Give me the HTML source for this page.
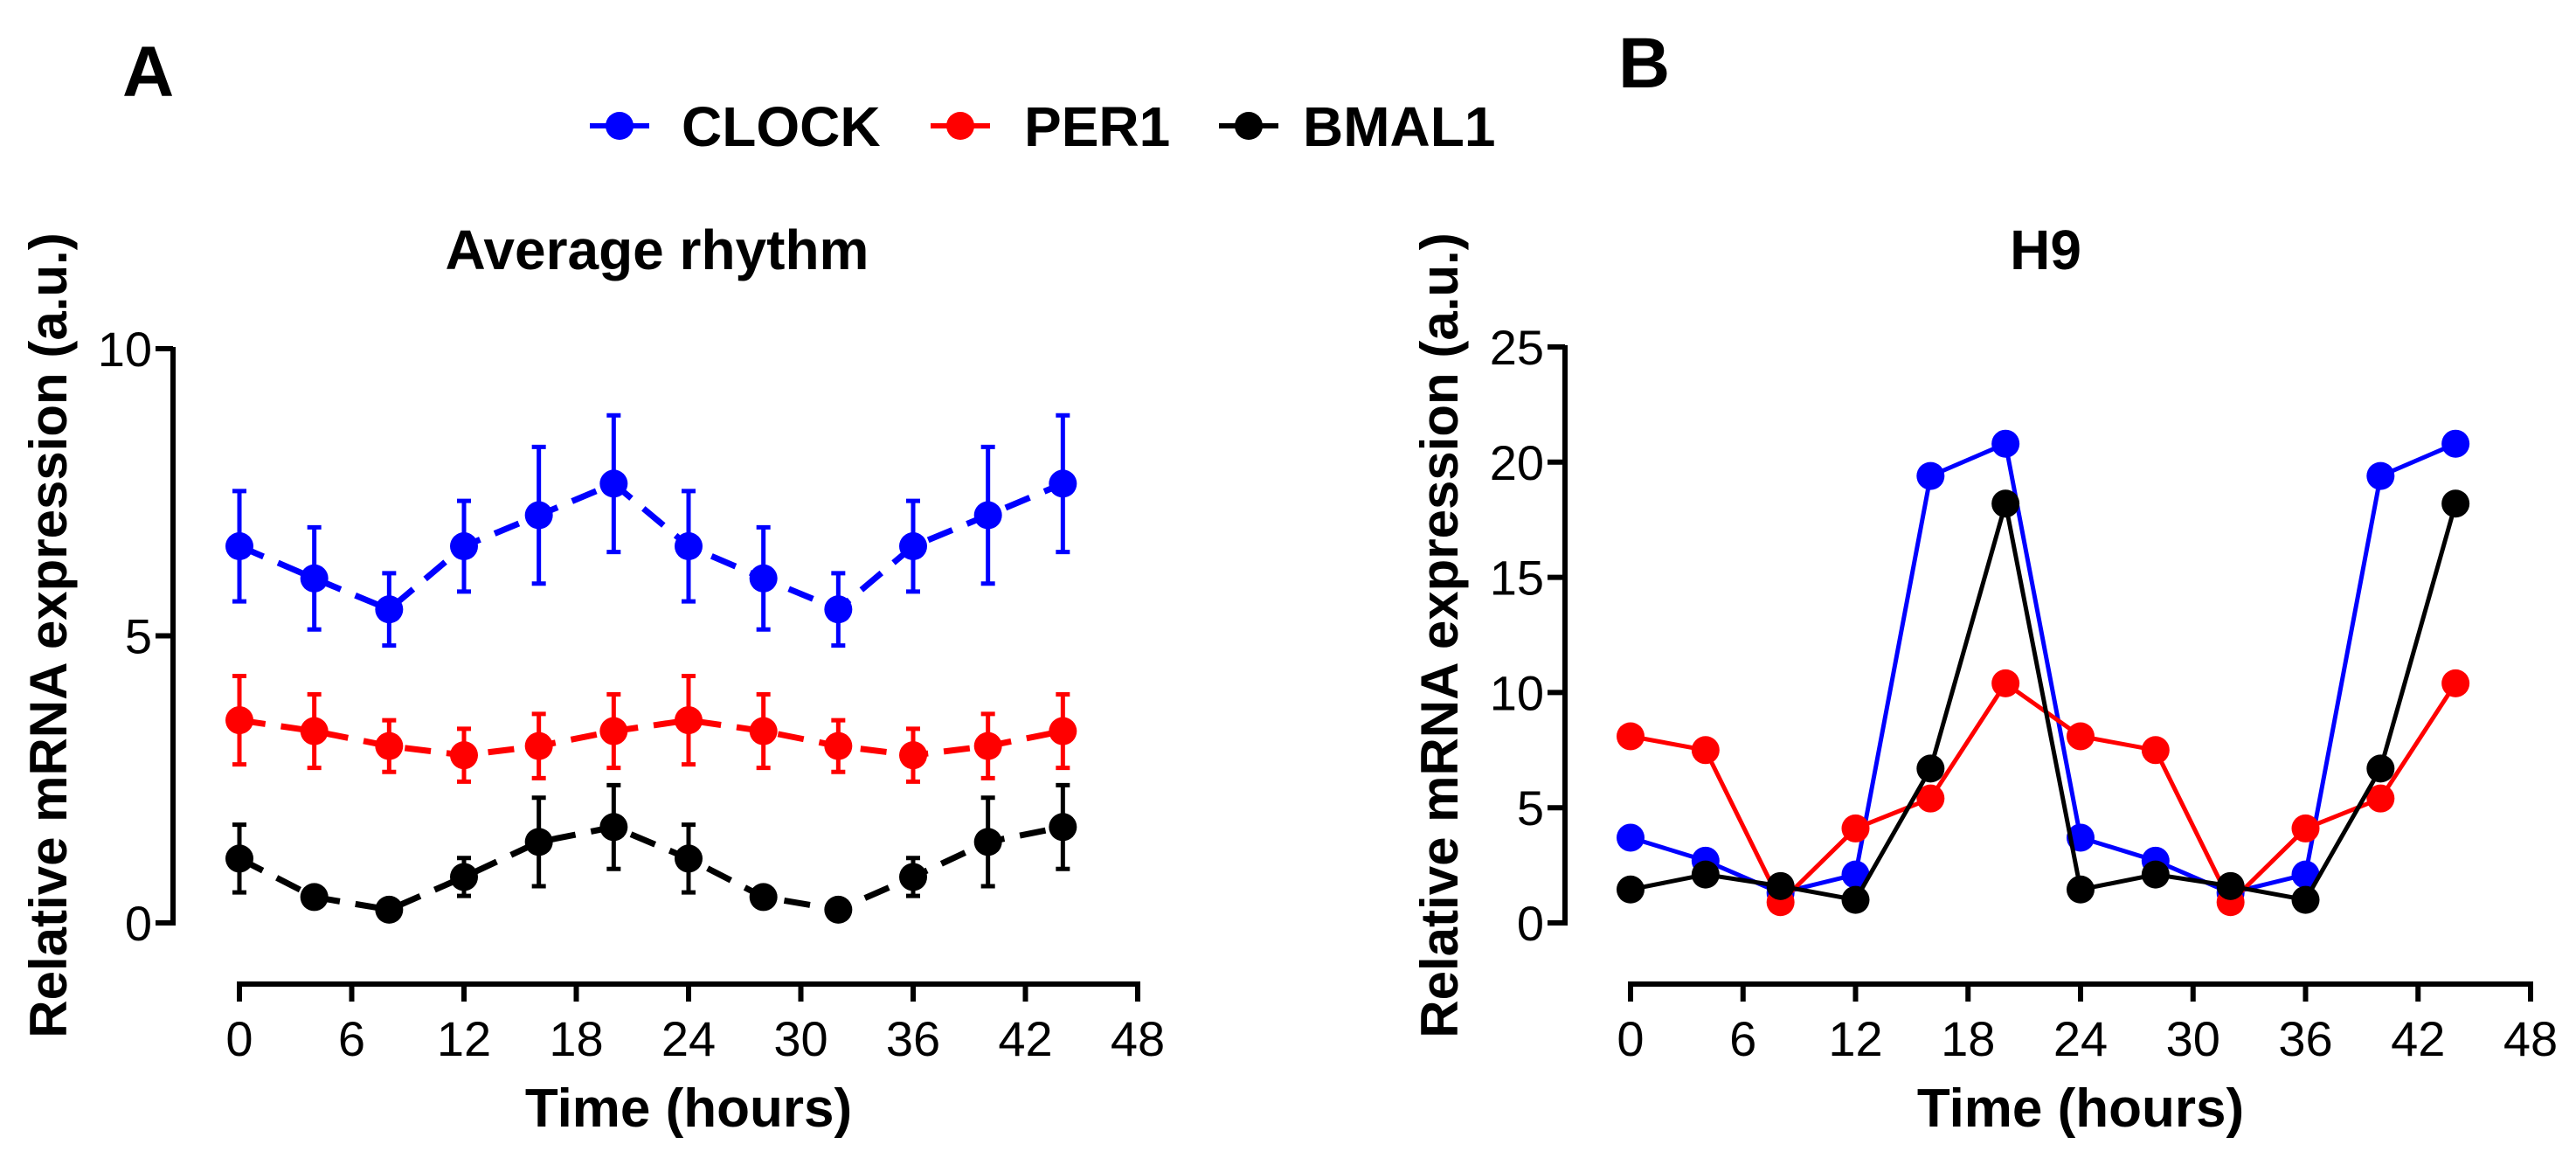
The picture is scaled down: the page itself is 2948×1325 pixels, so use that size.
<!DOCTYPE html>
<html><head><meta charset="utf-8"><style>
html,body{margin:0;padding:0;background:#fff;}
svg{display:block;font-family:"Liberation Sans",Arial,sans-serif;}
</style></head><body>
<svg id="chart" width="2948" height="1325" viewBox="0 0 2948 1325">
<text x="140" y="110" font-size="82" font-weight="bold">A</text>
<text x="1852" y="100" font-size="82" font-weight="bold">B</text>
<g id="legend"></g>
<g id="panelA"></g>
<g id="panelB"></g>
</svg>
<script>
const hours = [0,4,8,12,16,20,24,28,32,36,40,44];
const xTicks = [0,6,12,18,24,30,36,42,48];
const yTicksA = [0,5,10];
const yTicksB = [0,5,10,15,20,25];
const seriesNames = ["CLOCK","PER1","BMAL1"];
const seriesColors = ["#0000ff","#ff0000","#000000"];
const avgClock = [6.56,6.0,5.46,6.56,7.1,7.65,6.56,6.0,5.46,6.56,7.1,7.65];
const avgClockErr = [0.96,0.89,0.63,0.79,1.19,1.19,0.96,0.89,0.63,0.79,1.19,1.19];
const avgPer1 = [3.53,3.34,3.08,2.92,3.08,3.34,3.53,3.34,3.08,2.92,3.08,3.34];
const avgPer1Err = [0.77,0.64,0.45,0.46,0.56,0.64,0.77,0.64,0.45,0.46,0.56,0.64];
const avgBmal1 = [1.12,0.45,0.23,0.8,1.41,1.67,1.12,0.45,0.23,0.8,1.41,1.67];
const avgBmal1Err = [0.59,0.1,0.08,0.33,0.77,0.73,0.59,0.1,0.08,0.33,0.77,0.73];
const h9Clock = [3.7,2.7,1.3,2.1,19.4,20.8,3.7,2.7,1.3,2.1,19.4,20.8];
const h9Per1 = [8.1,7.5,0.9,4.1,5.4,10.4,8.1,7.5,0.9,4.1,5.4,10.4];
const h9Bmal1 = [1.45,2.1,1.6,1.0,6.7,18.2,1.45,2.1,1.6,1.0,6.7,18.2];

const NS="http://www.w3.org/2000/svg";
function mk(tag,attrs,parent){const e=document.createElementNS(NS,tag);for(const k in attrs)e.setAttribute(k,attrs[k]);parent.appendChild(e);return e;}

function drawPanel(g,cfg){
  const sx=v=>cfg.x0+(v-0)/48*(cfg.x1-cfg.x0);
  const sy=v=>cfg.yb-(v/cfg.ymax)*(cfg.yb-cfg.yt);
  const ya=mk('line',{x1:cfg.yaxX,y1:cfg.yt-2,x2:cfg.yaxX,y2:cfg.yb+3,stroke:'#000','stroke-width':6},g);
  
  
  cfg.yTicks.forEach(t=>{
    const tk=mk('line',{x1:cfg.yaxX-20,y1:sy(t),x2:cfg.yaxX,y2:sy(t),stroke:'#000','stroke-width':6},g);
    
    
    const tl=mk('text',{x:cfg.yaxX-24,y:sy(t)+20,'font-size':56,'text-anchor':'end'},g);
    tl.textContent=t;
    
    
  });
  const xa=mk('line',{x1:sx(0)-3,y1:cfg.xaxY,x2:sx(48)+3,y2:cfg.xaxY,stroke:'#000','stroke-width':6},g);
  
  
  xTicks.forEach(t=>{
    const tk=mk('line',{x1:sx(t),y1:cfg.xaxY,x2:sx(t),y2:cfg.xaxY+20,stroke:'#000','stroke-width':6},g);
    
    
    const tl=mk('text',{x:sx(t),y:1208,'font-size':56,'text-anchor':'middle'},g);
    tl.textContent=t;
    
    
  });
  const title=mk('text',{x:cfg.titleX,y:308,'font-size':64,'font-weight':'bold','text-anchor':'middle'},g);
  title.textContent=cfg.title;
  
  
  const xt=mk('text',{x:(sx(0)+sx(48))/2,y:1289,'font-size':62,'font-weight':'bold','text-anchor':'middle'},g);
  xt.textContent='Time (hours)';
  
  
  const yt=mk('text',{x:0,y:0,'font-size':60,'font-weight':'bold','text-anchor':'middle',transform:`translate(${cfg.ytX},727) rotate(-90)`},g);
  yt.textContent='Relative mRNA expression (a.u.)';
  
  
  cfg.series.forEach((s,si)=>{
    const col=seriesColors[si];
    const pts=hours.map((h,i)=>sx(h)+','+sy(s.vals[i])).join(' ');
    const pl=mk('polyline',{points:pts,fill:'none',stroke:col,'stroke-width':cfg.dashed?7:5,'stroke-dasharray':cfg.dashed?'30 18':'none'},g);
    
    
    hours.forEach((h,i)=>{
      if(s.err){
        const e=s.err[i],cx=sx(h);
        const eb=mk('path',{d:`M${cx},${sy(s.vals[i]+e)}V${sy(s.vals[i]-e)}M${cx-8},${sy(s.vals[i]+e)}H${cx+8}M${cx-8},${sy(s.vals[i]-e)}H${cx+8}`,stroke:col,'stroke-width':5,fill:'none'},g);
        
        
      }
      const c=mk('circle',{cx:sx(h),cy:sy(s.vals[i]),r:16,fill:col},g);
      
      
    });
  });
}
drawPanel(document.getElementById('panelA'),{x0:274,x1:1302,yb:1056,yt:399,ymax:10,yaxX:198,xaxY:1126,yTicks:yTicksA,title:'Average rhythm',titleX:752,ytX:76,dashed:true,
  series:[{vals:avgClock,err:avgClockErr},{vals:avgPer1,err:avgPer1Err},{vals:avgBmal1,err:avgBmal1Err}]});
drawPanel(document.getElementById('panelB'),{x0:1866,x1:2896,yb:1056,yt:397,ymax:25,yaxX:1791,xaxY:1126,yTicks:yTicksB,title:'H9',titleX:2341,ytX:1668,dashed:false,
  series:[{vals:h9Clock},{vals:h9Per1},{vals:h9Bmal1}]});
const lg=document.getElementById('legend');
const legX=[709,1099,1429], legTX=[780,1172,1491];
seriesNames.forEach((n,i)=>{
  const l=mk('line',{x1:legX[i]-34,y1:144,x2:legX[i]+34,y2:144,stroke:seriesColors[i],'stroke-width':6},lg);
  
  
  const c=mk('circle',{cx:legX[i],cy:144,r:16,fill:seriesColors[i]},lg);
  
  
  const t=mk('text',{x:legTX[i],y:167,'font-size':64,'font-weight':'bold'},lg);
  t.textContent=n;
  
  
});
</script>
</body></html>
